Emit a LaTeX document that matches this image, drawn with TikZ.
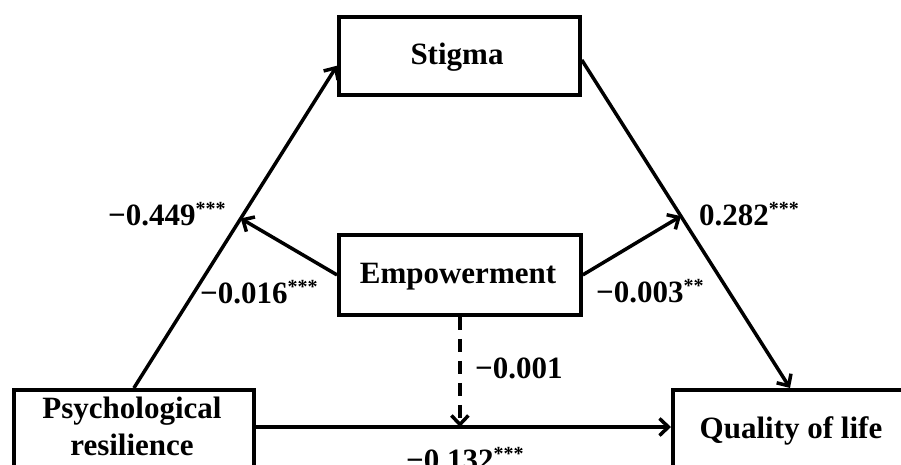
\documentclass[tikz,border=0pt]{standalone}
\usepackage{fontspec}
\setmainfont{Liberation Serif}
\usetikzlibrary{arrows.meta,calc}
\newcommand{\stars}[1]{\raisebox{9.5pt}{\fontsize{20}{20}\selectfont #1}}
\tikzset{
  box/.style={draw, line width=3.8pt, rectangle, inner sep=0pt},
  lbl/.style={font=\fontsize{31}{37}\selectfont\bfseries, inner sep=0pt},
  conn/.style={line width=3.5pt, -{Straight Barb[length=9pt,width=17pt,line width=3.5pt]}},
  plain/.style={line width=3.5pt}
}
\begin{document}
\begin{tikzpicture}[x=1pt,y=-1pt]
\useasboundingbox (0,0) rectangle (901,465);
\clip (0,0) rectangle (901,465);
\fill[white] (0,0) rectangle (901,465);
% boxes
\node[box, minimum width=241pt, minimum height=78pt, anchor=north west] (stig) at (337,15) {};
\node[box, minimum width=242pt, minimum height=80pt, anchor=north west] (emp) at (337,233) {};
\node[box, minimum width=240pt, minimum height=130pt, anchor=north west] (psy) at (12,388) {};
\node[box, minimum width=280pt, minimum height=130pt, anchor=north west] (qol) at (671,388) {};
% box texts
\node[lbl, anchor=base] (stigT) at (457,65) {Stigma};
\node[lbl, anchor=base] (empT) at (458,283) {Empowerment};
\node[lbl, anchor=base] (psyT1) at (132,418) {Psychological};
\node[lbl, anchor=base] (psyT2) at (132,455) {resilience};
\node[lbl, anchor=base] (qolT) at (791,438) {Quality of life};
% helper coordinates on box borders
\coordinate (stigW) at ($(stig.north west)!0.62!(stig.south west)$);
\coordinate (stigE) at ($(stig.north east)!0.55!(stig.south east)$);
\coordinate (qolN) at ($(qol.north west)+(119,0)$);
\coordinate (psyE) at ($(psy.north east)+(0,39)$);
\coordinate (m1) at ($(psy.north)!0.526!(stigW)$);
\coordinate (m2) at ($(stigE)!0.476!(qolN)$);
% connectors
\draw[conn] (psy.north) -- (stigW);
\draw[conn] (stigE) -- (qolN);
\draw[conn] (emp.west) -- (m1);
\draw[conn] (emp.east) -- (m2);
\draw[conn] (psyE) -- (psyE -| qol.west);
\draw[conn, dashed, dash pattern=on 13pt off 9pt] (emp.south) -- (emp.south |- psyE);
% coefficients
\node[lbl, anchor=base west] (c1) at (108,225) {−0.449\stars{***}};
\node[lbl, anchor=base west] (c2) at (200,303) {−0.016\stars{***}};
\node[lbl, anchor=base west] (c3) at (699,225) {0.282\stars{***}};
\node[lbl, anchor=base west] (c4) at (596,302) {−0.003\stars{**}};
\node[lbl, anchor=base west] (c5) at (475,378) {−0.001};
\node[lbl, anchor=base west] (c6) at (406,470) {−0.132\stars{***}};
\end{tikzpicture}
\end{document}
